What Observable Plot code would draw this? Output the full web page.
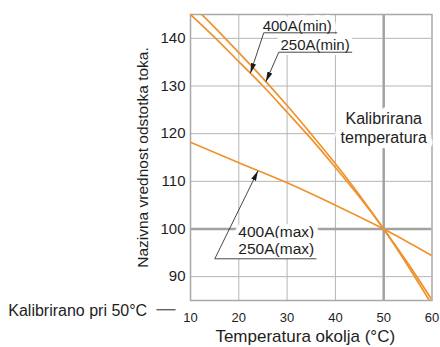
<!DOCTYPE html>
<html>
<head>
<meta charset="utf-8">
<script src="https://cdn.jsdelivr.net/npm/d3@7"></script>
<script src="https://cdn.jsdelivr.net/npm/@observablehq/plot@0.6"></script>
<style>
  html, body { margin: 0; padding: 0; background: white; }
</style>
</head>
<body>
<div id="chart"></div>
<script>
// ---- data ----
const xTicks = [10, 20, 30, 40, 50, 60];
const yTicks = [90, 100, 110, 120, 130, 140];
const calibTemp = 50;
const calibValue = 100;

const minTemps = [10, 15, 20, 25, 30, 35, 40, 45, 50, 55, 60];
const min400 = [145, 140.2, 135.1, 130.0, 124.5, 118.9, 112.9, 106.7, 100, 92.8, 85.1];
const min250 = [147.3, 142.3, 137.0, 131.6, 125.9, 119.9, 113.7, 107.1, 100, 92.3, 84.1];

const maxTemps = [10, 20, 30, 40, 50, 60];
const max400250 = [118.2, 113.9, 109.7, 105.0, 100, 94.4];

const seriesNames = ["400A(min)", "250A(min)", "400A(max) / 250A(max)"];
const xLabel = "Temperatura okolja (°C)";
const yLabel = "Nazivna vrednost odstotka toka.";
const calibText = "Kalibrirana\ntemperatura";
const footText = "Kalibrirano pri 50°C";
const maxText = "400A(max)\n250A(max)";

// ---- tables built from the arrays ----
const rows = [
  ...minTemps.map((t, i) => ({series: seriesNames[0], t, v: min400[i]})),
  ...minTemps.map((t, i) => ({series: seriesNames[1], t, v: min250[i]})),
  ...maxTemps.map((t, i) => ({series: seriesNames[2], t, v: max400250[i]}))
];

// annotation placement (data coordinates)
const minLabels = [
  {text: "400A(min)", x: 32.1, y: 142.5},
  {text: "250A(min)", x: 35.8, y: 138.6}
];
const leaderArrows = [
  {x1: 25.17, y1: 141.16, x2: 22.4, y2: 132.7},
  {x1: 28.28, y1: 137.09, x2: 25.6, y2: 130.9},
  {x1: 15.03, y1: 93.75, x2: 23.97, y2: 112.2}
];
const underlines = [
  {x1: 25.17, x2: 40.37, y: 141.16},
  {x1: 28.28, x2: 43.47, y: 137.09},
  {x1: 15.03, x2: 36.08, y: 93.75}
];

const orange = "#f0922c";
const gridColor = "#b5b5b5";
const halo = {stroke: "white", strokeWidth: 10, strokeLinejoin: "round", paintOrder: "stroke", fill: "#1e1e1e"};

const chart = Plot.plot({
  width: 440,
  height: 347,
  marginLeft: 190,
  marginRight: 8.5,
  marginTop: 14,
  marginBottom: 47,
  style: {fontFamily: "'Liberation Sans', Arial, sans-serif", color: "#1e1e1e", background: "white"},
  x: {domain: [10, 60]},
  y: {domain: [85, 145]},
  marks: [
    Plot.ruleX(xTicks.filter(d => d !== calibTemp && d !== 10 && d !== 60), {stroke: gridColor, strokeWidth: 1}),
    Plot.ruleY(yTicks.filter(d => d !== calibValue), {stroke: gridColor, strokeWidth: 1}),
    Plot.ruleX([calibTemp], {stroke: "#a2a2a2", strokeWidth: 2.5}),
    Plot.ruleY([calibValue], {stroke: "#a2a2a2", strokeWidth: 2.5}),
    Plot.frame({stroke: "#a8a8a8", strokeWidth: 1.5}),
    Plot.line(rows, {x: "t", y: "v", z: "series", stroke: orange, strokeWidth: 1.7, curve: "monotone-x", clip: true}),
    Plot.axisX(xTicks, {tickSize: 0, tickPadding: 12, fontSize: 13, label: null}),
    Plot.axisY(yTicks, {tickSize: 0, tickPadding: 5, fontSize: 15, label: null}),
    Plot.text([calibText], {x: calibTemp, y: 121.25, text: d => d, fontSize: 16, lineHeight: 1.17, lineAnchor: "middle", textAnchor: "middle", ...halo, strokeWidth: 11}),
    Plot.text(minLabels, {x: "x", y: "y", text: "text", fontSize: 15, lineAnchor: "middle", textAnchor: "middle", ...halo}),
    Plot.text([maxText], {x: 27.76, y: 97.6, text: d => d, fontSize: 15.5, lineHeight: 1.07, lineAnchor: "middle", textAnchor: "middle", ...halo}),
    Plot.link(underlines, {x1: "x1", x2: "x2", y1: "y", y2: "y", stroke: "#333", strokeWidth: 0.9}),
    Plot.link(leaderArrows, {x1: "x1", y1: "y1", x2: "x2", y2: "y2", stroke: "#333", strokeWidth: 0.91}),
    Plot.text([yLabel], {frameAnchor: "left", text: d => d, rotate: -90, dx: -47, fontSize: 15.5, textAnchor: "middle", lineAnchor: "middle"}),
    Plot.text([xLabel], {frameAnchor: "bottom", text: d => d, dx: -6, dy: 35.7, fontSize: 17, textAnchor: "middle", lineAnchor: "middle"}),
    Plot.text([footText], {x: 1.03, y: 82.72, text: d => d, fontSize: 16, textAnchor: "end", lineAnchor: "middle"}),
    Plot.link([{x1: 2.96, x2: 6.9, y: 83.05}], {x1: "x1", x2: "x2", y1: "y", y2: "y", stroke: "#222", strokeWidth: 1})
  ]
});

// filled arrowheads on the leader lines
const svg = d3.select(chart);
svg.insert("defs", ":first-child")
  .append("marker")
  .attr("id", "leader-head")
  .attr("viewBox", "-10 -3 10 6")
  .attr("refX", 0).attr("refY", 0)
  .attr("markerWidth", 10).attr("markerHeight", 6)
  .attr("markerUnits", "userSpaceOnUse")
  .attr("orient", "auto")
  .append("path")
  .attr("d", "M-10,-2.6L0,0L-10,2.6Z")
  .attr("fill", "#1a1a1a");
svg.selectAll("g")
  .filter(function() { return this.getAttribute("stroke-width") === "0.91"; })
  .selectAll("path")
  .attr("marker-end", "url(#leader-head)");

document.getElementById("chart").appendChild(chart);
</script>
</body>
</html>
